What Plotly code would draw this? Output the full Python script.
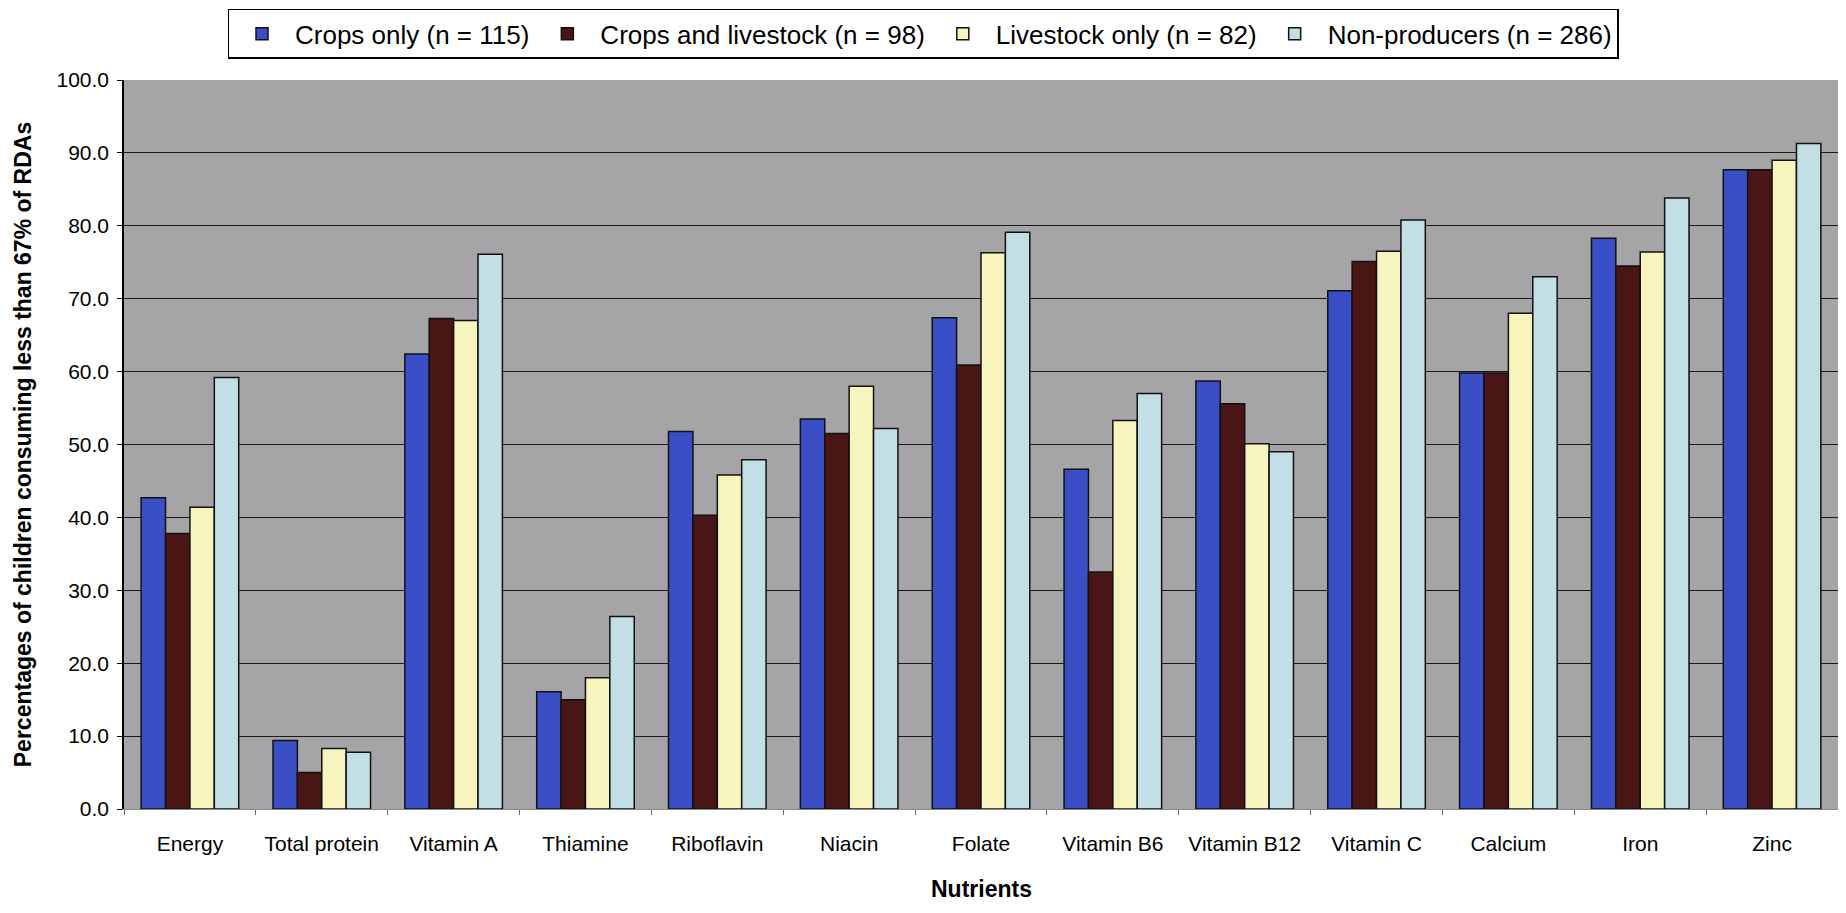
import plotly.graph_objects as go

nutrients = ["Energy", "Total protein", "Vitamin A", "Thiamine", "Riboflavin", "Niacin",
             "Folate", "Vitamin B6", "Vitamin B12", "Vitamin C", "Calcium", "Iron", "Zinc"]

crops_only = [42.7, 9.4, 62.4, 16.1, 51.8, 53.5, 67.4, 46.6, 58.7, 71.1, 59.8, 78.3, 87.7]
crops_livestock = [37.8, 5.0, 67.3, 15.0, 40.3, 51.5, 60.9, 32.5, 55.6, 75.1, 59.8, 74.5, 87.7]
livestock_only = [41.4, 8.3, 67.0, 18.0, 45.8, 58.0, 76.3, 53.3, 50.1, 76.5, 68.0, 76.4, 89.0]
non_producers = [59.2, 7.8, 76.1, 26.4, 47.9, 52.2, 79.1, 57.0, 49.0, 80.8, 73.0, 83.8, 91.3]

series_names = ["Crops only (n = 115)", "Crops and livestock (n = 98)",
                "Livestock only (n = 82)", "Non-producers (n = 286)"]
series_values = [crops_only, crops_livestock, livestock_only, non_producers]
series_colors = ["#3a4fc6", "#4a1515", "#f8f4bd", "#c3dfe6"]

y_ticks = [0, 10, 20, 30, 40, 50, 60, 70, 80, 90, 100]
y_tick_labels = ["0.0", "10.0", "20.0", "30.0", "40.0", "50.0", "60.0", "70.0", "80.0", "90.0", "100.0"]

x_title = "Nutrients"
y_title = "Percentages of children consuming less than 67% of RDAs"

fig = go.Figure()
for name, vals, col in zip(series_names, series_values, series_colors):
    fig.add_trace(go.Bar(
        x=nutrients, y=vals, name=name,
        marker=dict(color=col, line=dict(color="#111111", width=1.5)),
    ))

font_main = "Liberation Sans, Arial, sans-serif"

fig.update_layout(
    width=1830, height=897,
    barmode="group", bargap=0.26, bargroupgap=0.0,
    paper_bgcolor="white", plot_bgcolor="#a5a5a7",
    margin=dict(l=116, r=0, t=72, b=96),
    font=dict(family=font_main, color="black"),
    legend=dict(
        orientation="h", xref="container", yref="container",
        x=0.5, xanchor="center", y=0.999, yanchor="top",
        bordercolor="black", borderwidth=1.5, bgcolor="white",
        font=dict(size=26, family=font_main),
        itemwidth=56, traceorder="normal",
    ),
    xaxis=dict(
        tickfont=dict(size=21), ticklabelstandoff=16,
        showline=True, linecolor="#888888", linewidth=1,
        ticks="outside", tickson="boundaries", ticklen=5, tickcolor="#666666",
        showgrid=False, automargin=False,
    ),
    yaxis=dict(
        title=dict(text="<b>" + y_title + "</b>", font=dict(size=23), standoff=18),
        range=[0, 100], tickvals=y_ticks, ticktext=y_tick_labels,
        tickfont=dict(size=21), ticklabelstandoff=4,
        showline=True, linecolor="black", linewidth=1.5,
        ticks="outside", ticklen=5, tickcolor="black",
        showgrid=True, gridcolor="#1a1a1a", gridwidth=1,
        zeroline=False, automargin=False,
    ),
    annotations=[dict(
        text="<b>" + x_title + "</b>", xref="paper", yref="paper",
        x=0.5, y=0, xanchor="center", yanchor="middle", yshift=-80,
        showarrow=False, font=dict(size=23, family=font_main, color="black"),
    )],
)

fig.write_html("out.html")
